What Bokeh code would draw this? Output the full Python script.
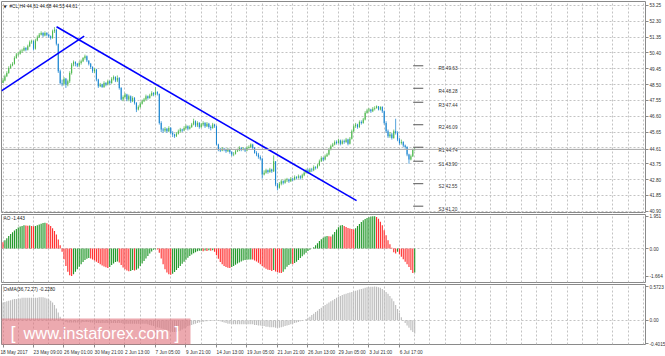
from bokeh.plotting import figure
from bokeh.layouts import column
from bokeh.models import FixedTicker, Range1d, Span, Label, BoxAnnotation, Grid
from bokeh.embed import file_html
from bokeh.resources import INLINE
from bokeh.core.properties import value

FONT = "Liberation Sans"

# ---------------- data ----------------
symbol_title = "#CL,H4 44.61 44.68 44.53 44.61"
first_open = 48.6
close = [48.75, 49.0, 49.2, 49.5, 49.65, 49.75, 50.1, 50.3, 50.35, 50.5,
         50.55, 50.7, 50.6, 50.8, 51.05, 51.1, 50.65, 51.15, 51.35, 51.5,
         51.6, 51.45, 51.6, 51.5, 51.4, 51.3, 51.7, 51.8, 50.95, 49.3,
         48.6, 48.55, 48.85, 48.5, 48.7, 49.2, 49.7, 49.85, 49.75, 49.65,
         49.8, 49.9, 50.1, 50.2, 49.95, 49.75, 49.55, 49.3, 49.4, 48.8,
         48.4, 48.5, 48.35, 48.6, 48.5, 48.7, 48.6, 48.85, 48.95, 48.75,
         48.9, 48.3, 47.6, 47.75, 47.9, 47.6, 47.8, 47.5, 47.7, 47.4,
         47.0, 47.15, 47.35, 47.5, 47.6, 47.8, 47.7, 47.85, 48.0, 47.9,
         48.05, 47.95, 46.2, 45.8, 45.75, 45.85, 45.7, 45.9, 45.6, 45.5,
         45.4, 45.55, 45.7, 45.8, 45.75, 45.9, 46.0, 45.85, 45.95, 46.1,
         46.3, 46.05, 46.2, 45.95, 46.1, 46.2, 46.0, 46.15, 45.95, 45.9,
         46.1, 46.0, 44.9, 44.6, 44.55, 44.65, 44.6, 44.5, 44.6, 44.45,
         44.3, 44.35, 44.5, 44.55, 44.7, 44.6, 44.65, 44.55, 44.7, 44.75,
         44.9, 44.7, 44.4, 44.3, 44.15, 44.05, 43.1, 43.2, 43.35, 43.25,
         43.4, 43.3, 43.9, 42.5, 42.3, 42.55, 42.7, 42.6, 42.75, 42.8,
         42.7, 42.85, 42.8, 42.95, 42.9, 43.0, 42.9, 43.05, 43.2, 43.35,
         43.25, 43.4, 43.35, 43.55, 43.5, 43.65, 43.9, 44.1, 44.0, 44.2,
         44.3, 44.6, 44.8, 44.9, 45.05, 45.0, 45.15, 44.95, 45.1, 45.05,
         45.2, 44.95, 45.25, 45.7, 46.0, 46.1, 45.95, 46.25, 46.2, 46.4,
         46.8, 46.95, 47.0, 46.9, 47.05, 47.1, 47.2, 47.0, 47.15, 46.9,
         46.2, 45.7, 45.4, 45.5, 45.3, 45.7, 45.6, 45.2, 45.0, 45.05,
         44.85, 44.75, 44.3, 44.0, 44.2, 44.6, 44.61]
high = [48.9, 49.1, 49.3, 49.6, 49.75, 49.85, 50.2, 50.4, 50.45, 50.6,
        50.65, 50.8, 50.75, 50.9, 51.15, 51.2, 51.15, 51.25, 51.45, 51.6,
        51.7, 51.65, 51.7, 51.65, 51.55, 51.45, 51.8, 51.95, 51.85, 50.95,
        49.4, 48.8, 48.95, 48.9, 48.8, 49.3, 49.8, 49.95, 49.9, 49.8,
        49.9, 50.0, 50.15, 50.3, 50.25, 49.95, 49.8, 49.6, 49.5, 49.45,
        48.85, 48.6, 48.55, 48.7, 48.65, 48.8, 48.75, 48.95, 49.05, 49.0,
        49.05, 48.95, 48.35, 47.85, 48.0, 47.95, 47.9, 47.85, 47.8, 47.75,
        47.45, 47.25, 47.45, 47.6, 47.7, 47.9, 47.85, 47.95, 48.1, 48.05,
        48.35, 48.1, 47.95, 46.3, 45.9, 45.95, 45.9, 46.0, 45.95, 45.7,
        45.55, 45.65, 45.8, 45.9, 45.85, 46.0, 46.1, 46.05, 46.05, 46.2,
        46.45, 46.35, 46.3, 46.25, 46.2, 46.3, 46.25, 46.25, 46.2, 46.05,
        46.2, 46.15, 46.05, 44.95, 44.7, 44.75, 44.7, 44.65, 44.7, 44.65,
        44.5, 44.45, 44.6, 44.65, 44.8, 44.75, 44.75, 44.7, 44.8, 44.85,
        44.97, 44.95, 44.75, 44.5, 44.4, 44.25, 44.1, 43.35, 43.45, 43.4,
        43.5, 43.45, 44.25, 43.9, 42.6, 42.65, 42.8, 42.75, 42.85, 42.9,
        42.85, 42.95, 42.9, 43.05, 43.0, 43.1, 43.05, 43.15, 43.3, 43.45,
        43.45, 43.5, 43.5, 43.65, 43.6, 43.75, 44.0, 44.2, 44.15, 44.3,
        44.4, 44.7, 44.9, 45.0, 45.15, 45.15, 45.25, 45.2, 45.2, 45.2,
        45.3, 45.25, 45.35, 45.8, 46.1, 46.2, 46.15, 46.35, 46.35, 46.5,
        46.9, 47.05, 47.1, 47.05, 47.15, 47.2, 47.25, 47.2, 47.2, 47.2,
        46.95, 46.3, 45.8, 45.65, 45.6, 45.8, 46.45, 45.7, 45.3, 45.2,
        45.1, 44.9, 44.8, 44.35, 44.3, 44.65, 44.68]
low = [48.6, 48.7, 48.95, 49.15, 49.45, 49.6, 49.7, 50.05, 50.2, 50.3,
       50.4, 50.5, 50.5, 50.55, 50.75, 50.95, 50.55, 50.6, 51.1, 51.3,
       51.45, 51.35, 51.4, 51.4, 51.3, 51.2, 51.25, 51.6, 50.85, 49.2,
       48.5, 48.4, 48.45, 48.3, 48.4, 48.6, 49.1, 49.6, 49.6, 49.55,
       49.55, 49.7, 49.85, 50.0, 49.85, 49.65, 49.45, 49.2, 49.2, 48.7,
       48.3, 48.35, 48.3, 48.3, 48.4, 48.45, 48.5, 48.55, 48.75, 48.65,
       48.65, 48.2, 47.55, 47.5, 47.65, 47.5, 47.5, 47.4, 47.45, 47.3,
       46.85, 46.95, 47.1, 47.3, 47.45, 47.55, 47.6, 47.65, 47.8, 47.8,
       47.85, 47.85, 46.1, 45.65, 45.6, 45.65, 45.6, 45.65, 45.5, 45.35,
       45.3, 45.35, 45.5, 45.6, 45.65, 45.7, 45.8, 45.75, 45.8, 45.9,
       46.05, 45.95, 45.95, 45.85, 45.9, 46.0, 45.9, 45.95, 45.85, 45.75,
       45.85, 45.9, 44.85, 44.5, 44.45, 44.5, 44.5, 44.4, 44.45, 44.35,
       44.2, 44.2, 44.3, 44.45, 44.5, 44.5, 44.55, 44.45, 44.5, 44.65,
       44.7, 44.6, 44.35, 44.2, 44.05, 43.95, 42.85, 43.05, 43.15, 43.15,
       43.2, 43.2, 43.25, 42.4, 42.15, 42.25, 42.45, 42.5, 42.55, 42.65,
       42.6, 42.65, 42.7, 42.75, 42.8, 42.85, 42.8, 42.85, 43.0, 43.15,
       43.15, 43.2, 43.25, 43.3, 43.4, 43.45, 43.6, 43.85, 43.9, 43.95,
       44.15, 44.25, 44.55, 44.75, 44.85, 44.9, 44.95, 44.85, 44.9, 44.95,
       45.0, 44.85, 44.9, 45.2, 45.65, 45.9, 45.85, 45.9, 46.1, 46.15,
       46.35, 46.75, 46.85, 46.8, 46.85, 46.95, 47.05, 46.95, 46.95, 46.8,
       46.1, 45.6, 45.3, 45.3, 45.2, 45.25, 45.5, 45.1, 44.9, 44.9,
       44.75, 44.65, 44.2, 43.75, 43.95, 44.15, 44.53]
ao = [0.38, 0.50, 0.62, 0.75, 0.88, 0.98, 1.08, 1.18, 1.26, 1.32,
      1.36, 1.40, 1.38, 1.37, 1.39, 1.36, 1.34, 1.35, 1.40, 1.45,
      1.49, 1.53, 1.56, 1.52, 1.45, 1.35, 1.22, 1.05, 0.85, 0.55,
      0.20, -0.20, -0.65, -1.05, -1.40, -1.62, -1.664, -1.55, -1.40, -1.25,
      -1.10, -0.95, -0.82, -0.70, -0.62, -0.57, -0.60, -0.66, -0.72, -0.80,
      -0.88, -0.95, -1.02, -1.08, -1.13, -1.17, -1.12, -1.00, -0.90, -0.82,
      -0.78, -0.85, -1.00, -1.15, -1.25, -1.32, -1.37, -1.35, -1.30, -1.33,
      -1.28, -1.20, -1.05, -0.90, -0.75, -0.60, -0.45, -0.30, -0.18, -0.08,
      -0.04, -0.06, -0.25, -0.60, -0.95, -1.25, -1.45, -1.55, -1.58, -1.52,
      -1.42, -1.30, -1.18, -1.05, -0.92, -0.80, -0.68, -0.56, -0.45, -0.36,
      -0.28, -0.22, -0.17, -0.14, -0.13, -0.16, -0.12, -0.15, -0.10, -0.14,
      -0.11, -0.20, -0.40, -0.62, -0.82, -0.95, -1.05, -1.12, -1.16, -1.17,
      -1.12, -1.05, -0.98, -0.90, -0.84, -0.78, -0.73, -0.70, -0.68, -0.67,
      -0.66, -0.67, -0.72, -0.78, -0.86, -0.95, -1.05, -1.15, -1.22, -1.28,
      -1.30, -1.35, -1.30, -1.38, -1.43, -1.46, -1.48, -1.40, -1.25, -1.10,
      -1.00, -0.92, -0.95, -0.88, -0.80, -0.70, -0.58, -0.47, -0.36, -0.25,
      -0.15, -0.07, 0.0, 0.08, 0.20, 0.32, 0.45, 0.56, 0.65, 0.72,
      0.76, 0.74, 0.72, 0.85, 1.00, 1.15, 1.28, 1.38, 1.42, 1.35,
      1.30, 1.24, 1.20, 1.17, 1.15, 1.22, 1.35, 1.48, 1.60, 1.70,
      1.78, 1.84, 1.89, 1.93, 1.94, 1.951, 1.90, 1.80, 1.62, 1.40,
      1.10, 0.80, 0.50, 0.25, 0.05, -0.22, -0.30, -0.20, -0.35, -0.50,
      -0.65, -0.80, -0.95, -1.12, -1.30, -1.47, -1.443]
osma = [0.30, 0.31, 0.32, 0.33, 0.34, 0.35, 0.36, 0.36, 0.37, 0.37,
        0.38, 0.38, 0.38, 0.38, 0.38, 0.38, 0.38, 0.38, 0.38, 0.39,
        0.39, 0.39, 0.38, 0.37, 0.35, 0.33, 0.30, 0.26, 0.20, 0.13,
        0.06, 0.02, -0.02, -0.03, -0.04, -0.04, -0.04, -0.04, -0.04, -0.04,
        -0.04, -0.04, -0.03, -0.03, -0.03, -0.03, -0.04, -0.04, -0.04, -0.05,
        -0.05, -0.05, -0.05, -0.05, -0.05, -0.05, -0.05, -0.05, -0.05, -0.05,
        -0.05, -0.05, -0.05, -0.06, -0.06, -0.06, -0.06, -0.06, -0.06, -0.06,
        -0.06, -0.06, -0.06, -0.06, -0.06, -0.06, -0.07, -0.08, -0.09, -0.10,
        -0.11, -0.12, -0.13, -0.14, -0.15, -0.16, -0.17, -0.18, -0.19, -0.20,
        -0.20, -0.20, -0.19, -0.18, -0.16, -0.14, -0.12, -0.10, -0.09, -0.08,
        -0.07, -0.06, -0.05, -0.04, -0.03, -0.03, -0.02, -0.02, -0.01, -0.01,
        -0.01, 0.0, 0.005, -0.01, -0.02, -0.03, -0.04, -0.05, -0.06, -0.06,
        -0.07, -0.07, -0.07, -0.07, -0.07, -0.07, -0.07, -0.07, -0.07, -0.07,
        -0.07, -0.07, -0.08, -0.08, -0.09, -0.09, -0.10, -0.10, -0.11, -0.11,
        -0.12, -0.12, -0.12, -0.13, -0.13, -0.13, -0.12, -0.11, -0.10, -0.09,
        -0.08, -0.07, -0.06, -0.05, -0.04, -0.03, -0.02, -0.01, 0.0, 0.02,
        0.04, 0.06, 0.09, 0.11, 0.14, 0.16, 0.19, 0.21, 0.24, 0.26,
        0.28, 0.30, 0.32, 0.34, 0.36, 0.38, 0.40, 0.41, 0.43, 0.44,
        0.45, 0.46, 0.47, 0.48, 0.49, 0.50, 0.51, 0.52, 0.53, 0.54,
        0.55, 0.56, 0.56, 0.57, 0.57, 0.5723, 0.57, 0.56, 0.55, 0.53,
        0.51, 0.48, 0.45, 0.41, 0.37, 0.32, 0.26, 0.19, 0.12, 0.05,
        -0.01, -0.05, -0.09, -0.13, -0.17, -0.20, -0.228]
time_labels = ["18 May 2017", "23 May 09:00", "26 May 01:00", "30 May 21:00",
               "2 Jun 13:00", "7 Jun 05:00", "9 Jun 21:00", "14 Jun 13:00",
               "19 Jun 05:00", "21 Jun 21:00", "26 Jun 13:00", "29 Jun 05:00",
               "3 Jul 21:00", "6 Jul 17:00"]
bars_per_label = 16
bars_per_grid = 8
price_ticks = [53.25, 52.30, 51.35, 50.40, 49.45, 48.50, 47.55, 46.60, 45.65,
               44.70, 43.75, 42.80, 41.85, 40.90]
last_price = 44.61
pivot_names = ["R5", "R4", "R3", "R2", "R1", "S1", "S2", "S3"]
pivot_values = [49.63, 48.28, 47.44, 46.09, 44.74, 43.90, 42.55, 41.20]
ao_ticks = [1.951, 0.0, -1.664]
ao_tick_text = ["1.951", "0.00", "-1.664"]
osma_ticks = [0.5723, 0.0, -0.4015]
osma_tick_text = ["0.5723", "0.00", "-0.4015"]
ao_name = "AO -1.443"
osma_name = "OsMA(36,72,27) -0.2280"
# trend lines: (bar index, price) endpoints
trend_x0 = [28.1, -0.8]
trend_y0 = [51.97, 48.12]
trend_x1 = [185.5, 42.6]
trend_y1 = [41.53, 51.41]

# ---------------- layout ----------------
N = len(close)
idx = list(range(N))
opens = [first_open] + close[:-1]
high = [max(h, o, c) for h, o, c in zip(high, opens, close)]
low = [min(l, o, c) for l, o, c in zip(low, opens, close)]

PX_BAR = 1.906
FW = 644
X0 = -0.79
X1 = X0 + FW / PX_BAR
xr = Range1d(X0, X1)

MAIN_Y = (40.76, 53.49); MAIN_H = 212
AO_Y = (-2.05, 2.05); AO_H = 68
OS_Y = (-0.4135, 0.6065); OS_H = 60

GRID_C = "#c3c3c3"
OUT_C = "#8a8a8a"
TXT_C = "#333333"
FS = "4.7px"

# Arial/Liberation Sans advance widths (em) used to left-align time labels
CHAR_W = {c: 0.556 for c in "0123456789"}
CHAR_W.update({" ": 0.278, ":": 0.278, "M": 0.833, "a": 0.556, "y": 0.5, "J": 0.5,
               "u": 0.556, "n": 0.556, "l": 0.222})
NBSP_W = 0.278


def left_aligned(s):
    w = sum(CHAR_W.get(ch, 0.556) for ch in s)
    return "\u00a0" * int(round(w / NBSP_W)) + s


def xpx(px):
    return X0 + px / PX_BAR


def ypx(rng, h, top, px):
    return rng[1] - (px - top) * (rng[1] - rng[0]) / h


def panel(yr, fh, top, bottom, xaxis):
    p = figure(x_range=xr, y_range=Range1d(*yr), frame_width=FW, frame_height=fh,
               output_backend="svg", toolbar_location=None, tools="",
               x_axis_location="below" if xaxis else None, y_axis_location="right",
               min_border_left=1, min_border_right=0, min_border_top=top,
               min_border_bottom=bottom)
    p.outline_line_color = OUT_C
    p.outline_line_width = 1
    p.background_fill_color = "white"
    p.border_fill_color = "white"
    p.xgrid.visible = False
    p.ygrid.visible = False
    ax = p.yaxis[0]
    ax.axis_line_color = None
    ax.major_tick_out = 3
    ax.major_tick_in = 0
    ax.minor_tick_line_color = None
    ax.major_tick_line_color = OUT_C
    ax.major_label_text_font = FONT
    ax.major_label_text_font_size = FS
    ax.major_label_text_color = TXT_C
    ax.major_label_standoff = 1
    p.add_layout(Grid(dimension=0, ticker=FixedTicker(ticks=list(range(0, int(X1) + 1, bars_per_grid))),
                      grid_line_color=GRID_C, grid_line_dash="2 2"))
    return p


# ---- main price panel ----
p1 = panel(MAIN_Y, MAIN_H, 1, 0, False)
axis_ticks = [t for t in price_ticks if abs(t - last_price) > 0.2] + [last_price]
p1.yaxis[0].ticker = FixedTicker(ticks=axis_ticks)
p1.yaxis[0].major_label_overrides = {t: "%.2f" % t for t in axis_ticks}
p1.add_layout(Grid(dimension=1, ticker=FixedTicker(ticks=price_ticks),
                   grid_line_color=GRID_C, grid_line_dash="2 2"))
p1.add_layout(Span(location=last_price, dimension="width", line_color="#a6a6a6", line_width=1))

up_c, dn_c = "#4db84d", "#1c86d1"
cols = [up_c if c >= o else dn_c for o, c in zip(opens, close)]
p1.segment(x0=idx, y0=low, x1=idx, y1=high, color=cols, line_width=1, line_alpha=0.75)
p1.vbar(x=idx, top=[max(o, c) for o, c in zip(opens, close)],
        bottom=[min(o, c) for o, c in zip(opens, close)], width=0.55,
        fill_color=cols, line_color=None)

p1.segment(x0=trend_x0, y0=trend_y0, x1=trend_x1, y1=trend_y1, color="#0000ff", line_width=1.6)

pv_x0 = [N - 1.8] * len(pivot_values)
pv_x1 = [N + 3.5] * len(pivot_values)
p1.segment(x0=pv_x0, y0=pivot_values, x1=pv_x1, y1=pivot_values, color="#555555", line_width=1)
ppu = MAIN_H / (MAIN_Y[1] - MAIN_Y[0])
p1.text(x=[N + 11.5] * len(pivot_values), y=[v - 3 / ppu for v in pivot_values],
        text=[f"{n} {v:.2f}" for n, v in zip(pivot_names, pivot_values)],
        text_font=value(FONT), text_font_size=FS, text_color=TXT_C, text_baseline="middle")

p1.add_layout(Label(x=xpx(2), y=ypx(MAIN_Y, MAIN_H, 1, 5.7), text="\u25bc", text_font="DejaVu Sans",
                    text_font_size="4px", text_color="#222222", text_baseline="middle"))
p1.add_layout(Label(x=xpx(8), y=ypx(MAIN_Y, MAIN_H, 1, 5.7), text=symbol_title, text_font=FONT,
                    text_font_size=FS, text_color="#222222", text_baseline="middle"))

# ---- AO panel ----
p2 = panel(AO_Y, AO_H, 1, 1, False)
p2.yaxis[0].ticker = FixedTicker(ticks=ao_ticks)
p2.yaxis[0].major_label_overrides = dict(zip(ao_ticks, ao_tick_text))
p2.add_layout(Grid(dimension=1, ticker=FixedTicker(ticks=[0.0]),
                   grid_line_color=GRID_C, grid_line_dash="2 2"))
ao_cols = ["#ff3030"] + ["#22982a" if ao[i] > ao[i - 1] else "#ff3030" for i in range(1, N)]
p2.vbar(x=idx, top=ao, bottom=0, width=0.6, fill_color=ao_cols, line_color=None)
p2.add_layout(Label(x=xpx(2), y=ypx(AO_Y, AO_H, 214, 217.5), text=ao_name, text_font=FONT,
                    text_font_size=FS, text_color="#222222", text_baseline="middle"))

# ---- OsMA panel ----
p3 = panel(OS_Y, OS_H, 1, 0, True)
p3.yaxis[0].ticker = FixedTicker(ticks=osma_ticks)
p3.yaxis[0].major_label_overrides = dict(zip(osma_ticks, osma_tick_text))
p3.add_layout(Grid(dimension=1, ticker=FixedTicker(ticks=[0.0]),
                   grid_line_color=GRID_C, grid_line_dash="2 2"))
p3.vbar(x=idx, top=osma, bottom=0, width=0.6, fill_color="#bdbdbd", line_color=None)
p3.add_layout(Label(x=xpx(2), y=ypx(OS_Y, OS_H, 284, 288.5), text=osma_name, text_font=FONT,
                    text_font_size=FS, text_color="#222222", text_baseline="middle"))

xa = p3.xaxis[0]
lab_ticks = [k * bars_per_label for k in range(len(time_labels))]
xa.ticker = FixedTicker(ticks=lab_ticks)
# the first label is pushed inside the canvas by Bokeh itself, so it needs no padding
xa.major_label_overrides = {t: (s if k == 0 else left_aligned(s))
                            for k, (t, s) in enumerate(zip(lab_ticks, time_labels))}
xa.axis_line_color = None
xa.major_tick_out = 3
xa.major_tick_in = 0
xa.minor_tick_line_color = None
xa.major_tick_line_color = OUT_C
xa.major_label_text_font = FONT
xa.major_label_text_font_size = FS
xa.major_label_text_color = TXT_C
xa.major_label_standoff = 2

# watermark
p3.add_layout(BoxAnnotation(left=X0, right=xpx(189), top=ypx(OS_Y, OS_H, 284, 318),
                            bottom=ypx(OS_Y, OS_H, 284, 347), fill_color="#e0707a",
                            fill_alpha=0.6, line_color=None))
wm_y = ypx(OS_Y, OS_H, 284, 332)
p3.add_layout(Label(x=xpx(9), y=wm_y, text="[", text_font=FONT, text_font_size="18px",
                    text_color="white", text_baseline="middle"))
p3.add_layout(Label(x=xpx(22), y=wm_y, text="www.instaforex.com", text_font=FONT,
                    text_font_size="16.4px", text_color="white", text_baseline="middle"))
p3.add_layout(Label(x=xpx(173), y=wm_y, text="]", text_font=FONT, text_font_size="18px",
                    text_color="white", text_baseline="middle"))

layout = column(p1, p2, p3, spacing=0)
open("out.html", "w").write(file_html(layout, INLINE))
